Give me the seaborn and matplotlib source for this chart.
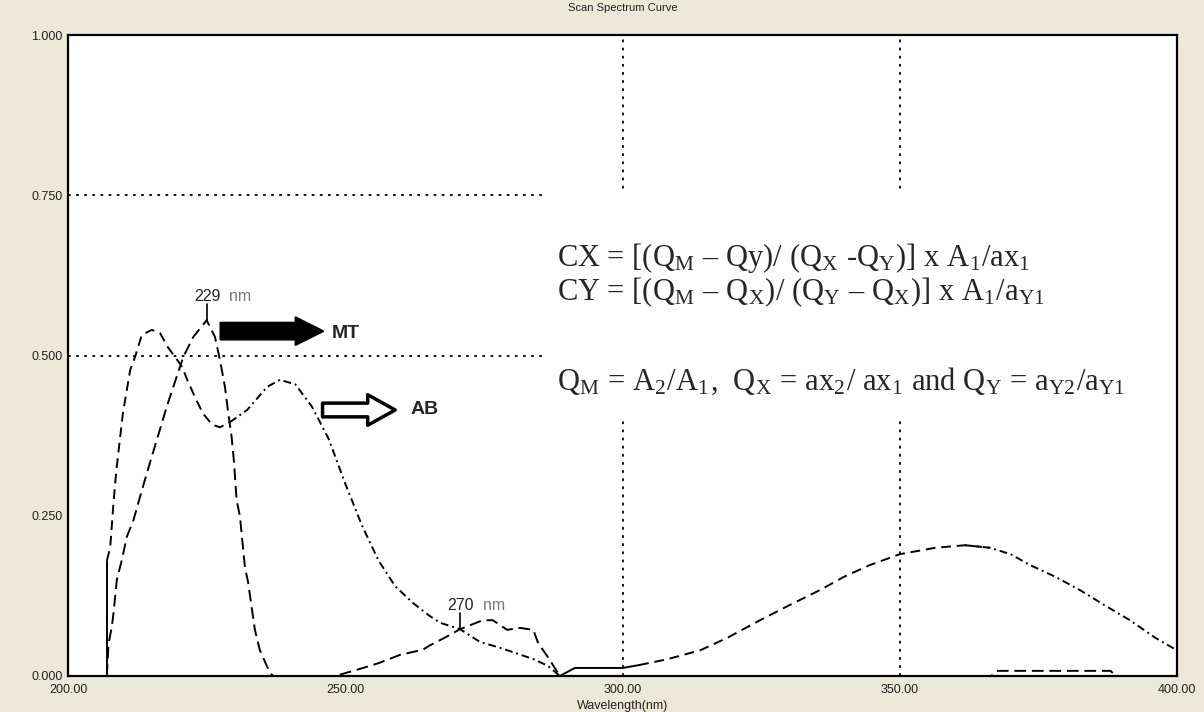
import matplotlib
matplotlib.use("Agg")
import matplotlib.pyplot as plt
import seaborn as sns
import numpy as np
import pandas as pd
from matplotlib.patches import Rectangle

# ---------------- data ----------------
mt_wavelength = [207.0, 207.3, 207.9, 208.2, 208.8, 209.7, 210.6, 211.8, 213.0, 214.2,
                 216.0, 217.8, 219.6, 220.8, 222.6, 225.0, 226.5, 227.4, 228.3, 228.9,
                 229.5, 229.9, 230.4, 231.0, 231.9, 232.5, 233.1, 233.7, 234.6, 236.4,
                 237.0, 248.2, 253.0, 256.0, 259.9, 264.0, 265.3, 268.0, 270.7, 274.8,
                 276.6, 279.2, 281.5, 283.9, 284.8, 286.5, 288.7, 366.5, 367.5, 388.0,
                 389.0, 400.0]
mt_absorb = [0.0, 0.05, 0.077, 0.098, 0.15, 0.181, 0.217, 0.243, 0.28, 0.316,
             0.368, 0.42, 0.467, 0.498, 0.529, 0.555, 0.529, 0.493, 0.451, 0.41,
             0.373, 0.337, 0.275, 0.249, 0.17, 0.145, 0.108, 0.072, 0.04, 0.005,
             0.0, 0.0, 0.012, 0.02, 0.033, 0.041, 0.048, 0.06, 0.073, 0.087,
             0.087, 0.072, 0.075, 0.072, 0.051, 0.03, 0.0, 0.0, 0.008, 0.008,
             0.0, 0.0]

ab_wavelength = [207.0, 207.0, 207.6, 208.2, 208.7, 209.9, 211.2, 212.1, 213.3, 215.1,
                 216.6, 218.0, 219.7, 220.6, 221.5, 222.9, 224.3, 226.0, 227.4, 229.2,
                 232.3, 235.9, 238.2, 241.0, 244.0, 247.0, 250.0, 253.0, 256.0, 259.0,
                 262.2, 265.0, 267.1, 270.7, 274.3, 277.9, 281.0, 284.0, 286.5, 288.7,
                 291.4, 300.0, 303.0, 308.0, 314.0, 319.0, 324.8, 330.0, 335.6, 340.0,
                 344.6, 350.0, 356.4, 361.8, 366.3, 370.0, 373.5, 378.0, 382.5, 387.0,
                 391.5, 396.0, 400.0]
ab_absorb = [0.0, 0.18, 0.20, 0.27, 0.32, 0.41, 0.477, 0.498, 0.532, 0.54,
             0.535, 0.513, 0.493, 0.482, 0.462, 0.435, 0.41, 0.392, 0.388, 0.396,
             0.415, 0.451, 0.462, 0.455, 0.42, 0.37, 0.30, 0.235, 0.18, 0.14,
             0.114, 0.095, 0.083, 0.073, 0.053, 0.044, 0.035, 0.026, 0.016, 0.0,
             0.0125, 0.0125, 0.017, 0.026, 0.04, 0.06, 0.087, 0.11, 0.134, 0.155,
             0.173, 0.19, 0.2, 0.204, 0.2, 0.19, 0.173, 0.155, 0.134, 0.11,
             0.087, 0.06, 0.04]

x_ticks = [200, 250, 300, 350, 400]
x_tick_labels = ["200.00", "250.00", "300.00", "350.00", "400.00"]
y_ticks = [0.0, 0.25, 0.5, 0.75, 1.0]
y_tick_labels = ["0.000", "0.250", "0.500", "0.750", "1.000"]

peak_labels = ["229 nm", "270 nm"]
peak_points = [(225.0, 0.555), (270.7, 0.073)]

formula_lines = [
    r"CX = [(Q$_\mathregular{M}$ – Qy)/ (Q$_\mathregular{X}$ -Q$_\mathregular{Y}$)] x A$_\mathregular{1}$/ax$_\mathregular{1}$",
    r"CY = [(Q$_\mathregular{M}$ – Q$_\mathregular{X}$)/ (Q$_\mathregular{Y}$ – Q$_\mathregular{X}$)] x A$_\mathregular{1}$/a$_\mathregular{Y1}$",
    r"Q$_\mathregular{M}$ = A$_\mathregular{2}$/A$_\mathregular{1}$,  Q$_\mathregular{X}$ = ax$_\mathregular{2}$/ ax$_\mathregular{1}$ and Q$_\mathregular{Y}$ = a$_\mathregular{Y2}$/a$_\mathregular{Y1}$",
]

# ---------------- style ----------------
sns.set_style("white")
plt.rcParams["font.family"] = ["Liberation Sans", "DejaVu Sans"]
plt.rcParams["mathtext.fontset"] = "stix"

BG = "#ECE9D8"
fig = plt.figure(figsize=(12.04, 7.12), dpi=100, facecolor=BG)
ax = fig.add_axes([0.0565, 0.0506, 0.9211, 0.9002])
ax.set_facecolor("white")

mt = pd.DataFrame({"wl": mt_wavelength, "a": mt_absorb})
ab = pd.DataFrame({"wl": ab_wavelength, "a": ab_absorb, "i": np.arange(len(ab_wavelength))})

# grid lines (dotted) at 0.5 / 0.75 and 300 / 350
for yv in [0.5, 0.75]:
    ax.plot([200, 400], [yv, yv], color="black", lw=1.3, ls=(0, (1.5, 3)), zorder=1)
for xv in [300, 350]:
    ax.plot([xv, xv], [0, 1], color="black", lw=1.3, ls=(0, (1.5, 3)), zorder=1)

# white area holding the formulas
ax.add_patch(Rectangle((286.0, 0.40), 115, 0.36, facecolor="white", edgecolor="none", zorder=1.5))

# MT curve (dashed)
sns.lineplot(data=mt, x="wl", y="a", ax=ax, color="black", lw=1.4,
             estimator=None, sort=False, linestyle=(0, (6, 3)), zorder=3)

# AB curve in segments of differing dash patterns
segs = [((0, 1), "-"), ((1, 19), (0, (5, 3))), ((19, 39), (0, (4, 2, 1, 2))),
        ((39, 41), "-"), ((41, 42), "-"), ((42, 54), (0, (5, 3))), ((53, 62), (0, (4, 2, 1, 2)))]
for (s, e), lsty in segs:
    part = ab[(ab["i"] >= s) & (ab["i"] <= e)]
    sns.lineplot(data=part, x="wl", y="a", ax=ax, color="black", lw=1.4,
                 estimator=None, sort=False, linestyle=lsty, zorder=3)

# peak annotations
for (px, py), lab in zip(peak_points, peak_labels):
    ax.plot([px, px], [py, py + 0.025], color="black", lw=1.2, zorder=3)
    num, unit = lab.split(" ")
    t = ax.text(px - 2.3, py + 0.025, num, fontsize=11.5, color="#222222", va="bottom", ha="left")
    ax.annotate("  " + unit, xycoords=t, xy=(1, 0), va="bottom", ha="left", fontsize=11.5, color="#777777")

# arrows
ax.annotate("", xy=(246.5, 0.538), xytext=(227.0, 0.538),
            arrowprops=dict(arrowstyle="simple,head_length=0.9,head_width=0.9,tail_width=0.55",
                            fc="black", ec="black", lw=1.5, mutation_scale=22), zorder=4)
ax.text(247.5, 0.535, "MT", fontsize=14, fontweight="bold", va="center", ha="left")
ax.annotate("", xy=(259.5, 0.415), xytext=(245.4, 0.415),
            arrowprops=dict(arrowstyle="simple,head_length=0.9,head_width=1.0,tail_width=0.45",
                            fc="white", ec="black", lw=2.5, mutation_scale=22), zorder=4)
ax.text(261.8, 0.415, "AB", fontsize=14, fontweight="bold", va="center", ha="left")

# formulas
for yv, line in zip([0.652, 0.599, 0.459], formula_lines):
    ax.text(288.2, yv, line, fontsize=22, family="Liberation Serif", va="center", ha="left", zorder=5)

# axes
ax.set_xlim(200, 400)
ax.set_ylim(0, 1)
ax.set_xticks(x_ticks)
ax.set_xticklabels(x_tick_labels)
ax.set_yticks(y_ticks)
ax.set_yticklabels(y_tick_labels)
ax.tick_params(length=0, labelsize=9, colors="#222222", pad=4)
ax.tick_params(axis="x", pad=6)
ax.set_xlabel("")
ax.set_ylabel("")
for sp in ax.spines.values():
    sp.set_visible(True)
    sp.set_color("black")
    sp.set_linewidth(1.6)

fig.text(0.517, 0.989, "Scan Spectrum Curve", fontsize=8, ha="center", va="center", color="#222222")
fig.text(0.517, 0.0, "Wavelength(nm)", fontsize=9, ha="center", va="bottom", color="#222222")

fig.savefig("out.png", dpi=100, facecolor=BG)
